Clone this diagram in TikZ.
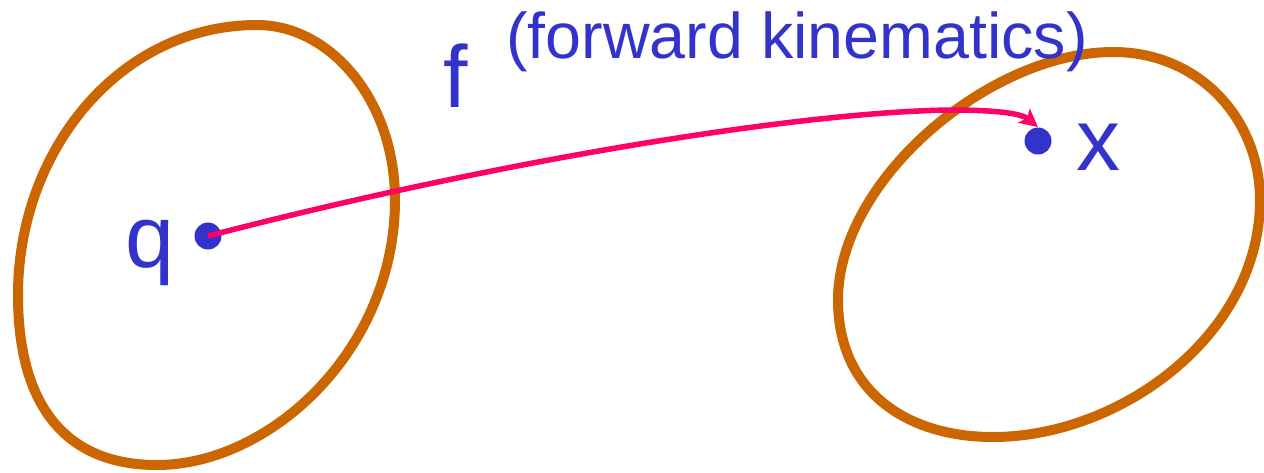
\documentclass[tikz,border=0pt]{standalone}
\usepackage{fontspec}
\setmainfont{Liberation Sans}
\usetikzlibrary{arrows.meta}
\definecolor{setorange}{HTML}{CC6600}
\definecolor{ptblue}{HTML}{3333CC}
\definecolor{mappink}{HTML}{FF0066}

\begin{document}
\begin{tikzpicture}[x=0.5pt,y=-0.5pt,
  setline/.style={draw=setorange,line width=5pt},
  ptdot/.style={circle,fill=ptblue,inner sep=0pt,minimum size=13.5pt},
  bigletter/.style={text=ptblue,font=\fontsize{44}{50}\selectfont,inner sep=0pt,anchor=base},
  maparrow/.style={draw=mappink,line width=2.75pt,-{Stealth[length=9pt,width=9pt,inset=2pt]}}]
  \useasboundingbox (0,0) rectangle (1264,472);
  % joint space
  \draw[setline] (257,25) .. controls (330,25) and (395,100) .. (395,200)
    .. controls (395,350) and (270,465) .. (157,465)
    .. controls (65,465) and (18,405) .. (18,295)
    .. controls (18,150) and (120,25) .. cycle;
  % task space
  \draw[setline] (1113,52) .. controls (1200,52) and (1260,120) .. (1260,200)
    .. controls (1260,335) and (1120,437) .. (993,437)
    .. controls (905,437) and (838,390) .. (838,300)
    .. controls (838,180) and (990,52) .. cycle;
  \node[ptdot] (qdot) at (208,236) {};
  \node[ptdot] (xdot) at (1038,141) {};
  \draw[maparrow] (qdot.center) .. controls (500,160) and (800,112) .. (950,110)
    .. controls (1000,110) and (1022,114) .. (xdot.north);
  \node[bigletter] (qlabel) at (150,267) {q};
  \node[bigletter] (xlabel) at (1098,170) {x};
  \node[bigletter] (flabel) at (456,107) {f};
  \node[text=ptblue,font=\fontsize{32.3}{38}\selectfont,inner sep=0pt,anchor=base] (fklabel) at (797,58) {(forward kinematics)};
\end{tikzpicture}
\end{document}
